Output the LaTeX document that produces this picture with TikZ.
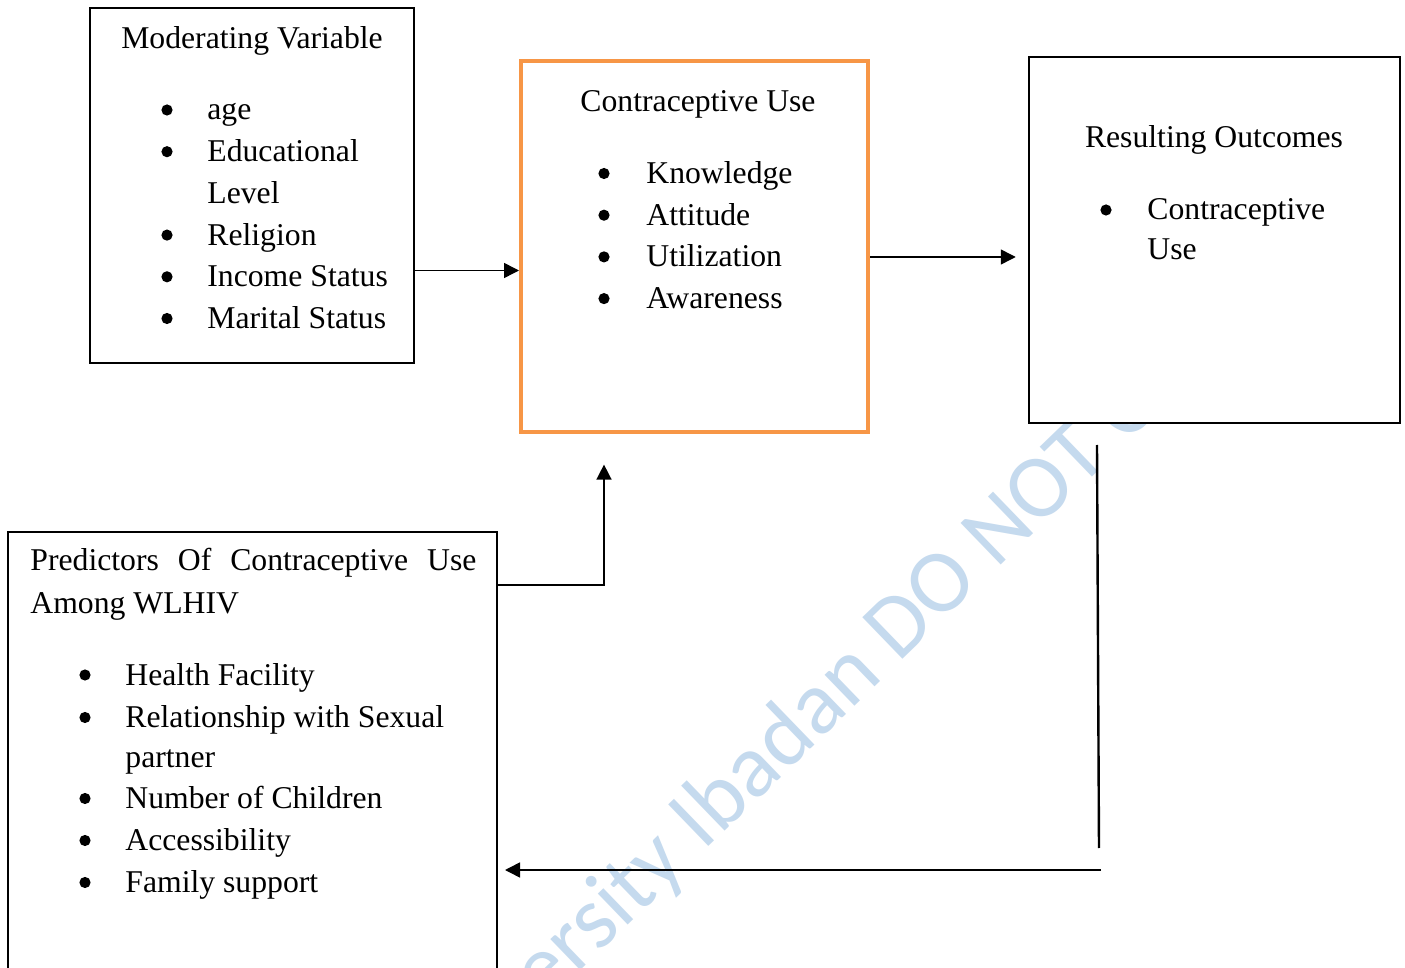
\documentclass[tikz,border=0pt]{standalone}
\usepackage{fontspec}
\setmainfont{Liberation Serif}
\newfontfamily\wmfont{Carlito}
\usetikzlibrary{arrows.meta}
\definecolor{orangebox}{RGB}{247,150,70}
\definecolor{wmblue}{RGB}{197,218,238}
\tikzset{
  txt/.style={inner sep=0pt, anchor=base west, font=\fontsize{15.85}{19}\selectfont},
  ctr/.style={inner sep=0pt, anchor=base, font=\fontsize{15.85}{19}\selectfont},
  bul/.style={circle, fill=black, inner sep=0pt, minimum size=5.6pt, yshift=5pt},
  boxk/.style={rectangle, draw=black, fill=white, line width=1.25pt, inner sep=0pt},
  boxo/.style={rectangle, draw=orangebox, fill=white, line width=2pt, inner sep=0pt},
  arr/.style={line width=0.75pt, -{Triangle[length=7.5pt,width=7.5pt]}},
  plain/.style={line width=0.75pt},
  wm/.style={inner sep=0pt, anchor=base west, text=wmblue, font=\wmfont\fontsize{45}{45}\selectfont}
}
\begin{document}
\begin{tikzpicture}[x=0.5pt,y=-0.5pt]
\useasboundingbox (0,0) rectangle (1405,968);
\clip (0,0) rectangle (1405,968);
\fill[white] (0,0) rectangle (1405,968);

% watermark
\node[wm, rotate=44] (wmark) at (544,1006) {ersity Ibadan DO NOT C};

% boxes
\node[boxk, minimum width=162pt, minimum height=177.5pt] (mod) at (252,185.5) {};
\node[boxo, minimum width=173.5pt, minimum height=185.5pt] (cu) at (694.5,246.5) {};
\node[boxk, minimum width=185.5pt, minimum height=183pt] (res) at (1214.5,240) {};
\node[boxk, line width=1pt, minimum width=244.5pt, minimum height=234pt] (pred) at (252.5,766) {};

% Moderating Variable
\node[ctr] (modt) at (252,49) {Moderating Variable};
\node[bul] (mb1) at (167,120) {};
\node[txt] (m1) at (207,120) {age};
\node[bul] (mb2) at (167,161.7) {};
\node[txt] (m2) at (207,161.7) {Educational};
\node[txt] (m2b) at (207,203.4) {Level};
\node[bul] (mb3) at (167,245.1) {};
\node[txt] (m3) at (207,245.1) {Religion};
\node[bul] (mb4) at (167,286.8) {};
\node[txt] (m4) at (207,286.8) {Income Status};
\node[bul] (mb5) at (167,328.5) {};
\node[txt] (m5) at (207,328.5) {Marital Status};

% Contraceptive Use
\node[ctr] (cut) at (698,112) {Contraceptive Use};
\node[bul] (cb1) at (604,183.5) {};
\node[txt] (c1) at (646,183.5) {Knowledge};
\node[bul] (cb2) at (604,225.2) {};
\node[txt] (c2) at (646,225.2) {Attitude};
\node[bul] (cb3) at (604,266.9) {};
\node[txt] (c3) at (646,266.9) {Utilization};
\node[bul] (cb4) at (604,308.6) {};
\node[txt] (c4) at (646,308.6) {Awareness};

% Resulting Outcomes
\node[ctr] (rest) at (1214,148) {Resulting Outcomes};
\node[bul] (rb1) at (1106,220) {};
\node[txt] (r1) at (1147,220) {Contraceptive};
\node[txt] (r1b) at (1147,260) {Use};

% Predictors
\node[txt] (predt) at (30,571) {\hbox to 223pt{Predictors\hfil Of\hfil Contraceptive\hfil Use}};
\node[txt] (predt2) at (30,613.5) {Among WLHIV};
\node[bul] (pb1) at (85,685) {};
\node[txt] (p1) at (125,685) {Health Facility};
\node[bul] (pb2) at (85,727.5) {};
\node[txt] (p2) at (125,727.5) {Relationship with Sexual};
\node[txt] (p2b) at (125,767) {partner};
\node[bul] (pb3) at (85,808.5) {};
\node[txt] (p3) at (125,808.5) {Number of Children};
\node[bul] (pb4) at (85,850.5) {};
\node[txt] (p4) at (125,850.5) {Accessibility};
\node[bul] (pb5) at (85,892.5) {};
\node[txt] (p5) at (125,892.5) {Family support};

% connectors
\coordinate (ya) at (0,270.5);
\coordinate (yb) at (0,257);
\coordinate (j) at (604,585);
\coordinate (fbtop) at (1097,445);
\coordinate (fbbot) at (1099,848);
\coordinate (fbr) at (1101,870);

\draw[arr] (mod.east |- ya) -- (cu.west |- ya);
\draw[arr, shorten >=6pt] (cu.east |- yb) -- (res.west |- yb);
\draw[arr, shorten >=15.3pt] (pred.east |- j) -| (cu.south -| j);
\draw[plain, line width=1.2pt] (fbtop) -- (fbbot);
\draw[arr, shorten >=3.5pt] (fbr) -- (pred.east |- fbr);
\end{tikzpicture}
\end{document}
